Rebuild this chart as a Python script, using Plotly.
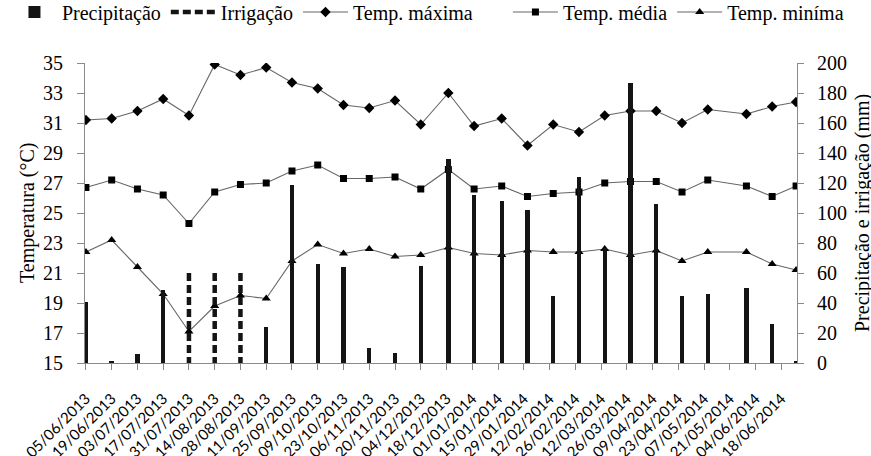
import plotly.graph_objects as go

# ---- data ----
dates = ["2013-06-05", "2013-06-19", "2013-07-03", "2013-07-17", "2013-07-31",
         "2013-08-14", "2013-08-28", "2013-09-11", "2013-09-25", "2013-10-09",
         "2013-10-23", "2013-11-06", "2013-11-20", "2013-12-04", "2013-12-19",
         "2014-01-02", "2014-01-17", "2014-01-31", "2014-02-14", "2014-02-28",
         "2014-03-14", "2014-03-28", "2014-04-11", "2014-04-25", "2014-05-09",
         "2014-05-30", "2014-06-13", "2014-06-26"]

temp_max = [31.2, 31.3, 31.8, 32.6, 31.5, 34.9, 34.2, 34.7, 33.7, 33.3,
            32.2, 32.0, 32.5, 30.9, 33.0, 30.8, 31.3, 29.5, 30.9, 30.4,
            31.5, 31.8, 31.8, 31.0, 31.9, 31.6, 32.1, 32.4]
temp_med = [26.7, 27.2, 26.6, 26.2, 24.3, 26.4, 26.9, 27.0, 27.8, 28.2,
            27.3, 27.3, 27.4, 26.6, 27.9, 26.6, 26.8, 26.1, 26.3, 26.4,
            27.0, 27.1, 27.1, 26.4, 27.2, 26.8, 26.1, 26.8]
temp_min = [22.4, 23.2, 21.4, 19.6, 17.1, 18.8, 19.5, 19.3, 21.8, 22.9,
            22.3, 22.6, 22.1, 22.2, 22.7, 22.3, 22.2, 22.5, 22.4, 22.4,
            22.6, 22.2, 22.5, 21.8, 22.4, 22.4, 21.6, 21.2]
precip = [41, 1, 6, 49, 0, 0, 0, 24, 119, 66,
          64, 10, 7, 65, 136, 112, 108, 102, 45, 124,
          77, 187, 106, 45, 46, 50, 26, 1]
irrig = [0, 0, 0, 0, 60, 60, 60, 0, 0, 0,
         0, 0, 0, 0, 0, 0, 0, 0, 0, 0,
         0, 0, 0, 0, 0, 0, 0, 0]

x_start = "2013-06-04 12:00"
x_end = "2014-06-26 12:00"
tick0 = "2013-06-05"
tick_step_days = 14

DAY = 86400000
SERIF = "Liberation Serif"
SANS = "Lato"
AX = "#8a8a8a"
LINE = "#666666"

fig = go.Figure()

fig.add_trace(go.Bar(
    x=dates, y=precip, name="Precipitação", yaxis="y2", legend="legend",
    width=2.4 * DAY, marker=dict(color="#141414", line=dict(width=0)),
))

# irrigation drawn as dashed vertical bars (0 -> value) on the mm axis
irr_x, irr_y = [], []
for d, v in zip(dates, irrig):
    if v > 0:
        irr_x += [d, d, None]
        irr_y += [v, 0, None]
fig.add_trace(go.Scatter(
    x=irr_x, y=irr_y, name="Irrigação", yaxis="y2", mode="lines",
    legend="legend",
    line=dict(color="#141414", width=4.5, dash="8px,4px"),
    connectgaps=False,
))
fig.add_trace(go.Scatter(
    x=dates, y=temp_max, name="Temp. máxima", yaxis="y", mode="lines+markers",
    legend="legend",
    line=dict(color=LINE, width=1.1),
    marker=dict(symbol="diamond", size=8, color="black"),
))
fig.add_trace(go.Scatter(
    x=dates, y=temp_med, name="Temp. média", yaxis="y", mode="lines+markers",
    legend="legend2",
    line=dict(color=LINE, width=1.1),
    marker=dict(symbol="square", size=7, color="black"),
))
fig.add_trace(go.Scatter(
    x=dates, y=temp_min, name="Temp. miníma", yaxis="y", mode="lines+markers",
    legend="legend2",
    line=dict(color=LINE, width=1.1),
    marker=dict(symbol="triangle-up", size=8, color="black"),
))

legend_style = dict(orientation="h", xref="paper", yref="paper",
                    y=1.235, xanchor="left", yanchor="top",
                    font=dict(family=SERIF, size=20, color="black"),
                    itemwidth=45, tracegroupgap=0,
                    bgcolor="rgba(0,0,0,0)")

fig.update_layout(
    width=871, height=456,
    margin=dict(l=85, r=74, t=63, b=93, autoexpand=False),
    paper_bgcolor="white", plot_bgcolor="white",
    barmode="overlay", bargap=0,
    font=dict(family=SERIF, size=20, color="black"),
    showlegend=True,
    legend=dict(x=-0.1096, **legend_style),
    legend2=dict(x=0.594, **legend_style),
    xaxis=dict(
        type="date", range=[x_start, x_end], automargin=False,
        tick0=tick0, dtick=tick_step_days * DAY, tickformat="%d/%m/%Y",
        tickangle=-45, tickfont=dict(family=SANS, size=15, color="black"),
        ticklabelstandoff=14,
        showline=True, linecolor=AX, linewidth=1,
        ticks="outside", ticklen=6, tickcolor=AX,
        showgrid=False, zeroline=False,
    ),
    yaxis=dict(
        range=[15, 35], tick0=15, dtick=2, side="left", automargin=False,
        tickfont=dict(family=SERIF, size=20), ticklabelstandoff=10,
        showline=True, linecolor=AX, linewidth=1,
        ticks="outside", ticklen=7, tickcolor=AX,
        showgrid=False, zeroline=False,
    ),
    yaxis2=dict(
        range=[0, 200], dtick=20, side="right", overlaying="y",
        automargin=False,
        tickfont=dict(family=SERIF, size=20), ticklabelstandoff=9,
        showline=True, linecolor=AX, linewidth=1,
        ticks="outside", ticklen=6, tickcolor=AX,
        showgrid=False, zeroline=False,
    ),
    annotations=[
        dict(text="Temperatura (°C)", textangle=-90,
             xref="paper", yref="paper", x=-0.0815, y=0.5,
             xanchor="center", yanchor="middle", showarrow=False,
             font=dict(family=SERIF, size=20, color="black")),
        dict(text="Precipitação e irrigação (mm)", textangle=-90,
             xref="paper", yref="paper", x=1.0913, y=0.5,
             xanchor="center", yanchor="middle", showarrow=False,
             font=dict(family=SERIF, size=20, color="black")),
    ],
)

fig.write_html("out.html",
               config={"displayModeBar": False},
               post_script="document.body.style.margin='0';"
                           "document.body.style.overflow='hidden';")
